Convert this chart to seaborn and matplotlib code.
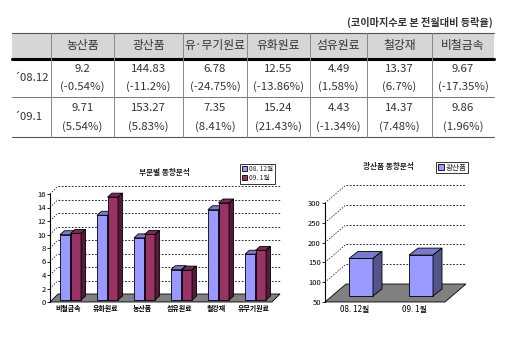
import numpy as np
import pandas as pd
import matplotlib
matplotlib.use("Agg")
import matplotlib.pyplot as plt
import matplotlib.colors as mcolors
from matplotlib.patches import Polygon, Rectangle
import seaborn as sns

sns.set_theme(style="white")
plt.rcParams['font.family'] = ['Noto Sans CJK KR', 'DejaVu Sans']

# ---- data ----
categories = ["농산품", "광산품", "유·무기원료", "유화원료", "섬유원료", "철강재", "비철금속"]
periods = ["´08.12", "´09.1"]
index_0812 = [9.2, 144.83, 6.78, 12.55, 4.49, 13.37, 9.67]
index_0901 = [9.71, 153.27, 7.35, 15.24, 4.43, 14.37, 9.86]
change_0812 = [-0.54, -11.2, -24.75, -13.86, 1.58, 6.7, -17.35]
change_0901 = [5.54, 5.83, 8.41, 21.43, -1.34, 7.48, 1.96]

sector_order = ["비철금속", "유화원료", "농산품", "섬유원료", "철강재", "유·무기원료"]
series_names = ["08. 12월", "09. 1월"]
mineral = "광산품"

note_text = "(코이마지수로 본 전월대비 등락율)"
left_title = "부문별 동향분석"
right_title = "광산품 동향분석"

BLUE = "#9999FF"
WINE = "#993366"
INK = "#333333"

W, H = 512, 341
fig = plt.figure(figsize=(W / 100, H / 100), dpi=100)
fig.patch.set_facecolor("white")

# ---- table (pixel coordinate canvas) ----
tab = fig.add_axes([0, 0, 1, 1], zorder=0)
tab.set_xlim(0, W)
tab.set_ylim(H, 0)
tab.axis("off")

col_edges = [12, 51, 114, 183, 247, 310, 367, 432, 494]
y_top, y_head, y_mid, y_bot = 33, 58.5, 97, 137

tab.add_patch(Rectangle((col_edges[0], y_top), col_edges[-1] - col_edges[0], y_head - y_top,
                        facecolor="#D6D6D6", edgecolor="none"))
tab.plot([col_edges[0], col_edges[-1]], [y_top, y_top], color="#555555", lw=0.8)
tab.plot([col_edges[0], col_edges[-1]], [y_head, y_head], color="black", lw=2.2)
tab.plot([col_edges[0], col_edges[-1]], [y_mid, y_mid], color="#777777", lw=0.7)
tab.plot([col_edges[0], col_edges[-1]], [y_bot, y_bot], color="#555555", lw=0.8)
for xe in col_edges[1:-1]:
    tab.plot([xe, xe], [y_top, y_bot], color="#888888", lw=0.7)

fam = ['Noto Sans CJK KR', 'DejaVu Sans']
for i, name in enumerate(categories):
    cx = (col_edges[i + 1] + col_edges[i + 2]) / 2
    tab.text(cx, (y_top + y_head) / 2, name, ha="center", va="center",
             fontsize=8.5, color=INK, family=fam)
    for r, (vals, chg) in enumerate([(index_0812, change_0812), (index_0901, change_0901)]):
        r0 = [y_head, y_mid][r]
        r1 = [y_mid, y_bot][r]
        hgt = r1 - r0
        tab.text(cx, r0 + hgt * 0.27, f"{vals[i]}", ha="center", va="center",
                 fontsize=8.2, color=INK, family=fam)
        tab.text(cx, r0 + hgt * 0.73, f"({chg[i]}%)", ha="center", va="center",
                 fontsize=8.2, color=INK, family=fam)

for r, lab in enumerate(periods):
    r0 = [y_head, y_mid][r]
    r1 = [y_mid, y_bot][r]
    tab.text(col_edges[0] + 1, (r0 + r1) / 2, lab, ha="left", va="center",
             fontsize=8.2, color=INK, family=fam)

tab.text(493, 22, note_text, ha="right", va="center", fontsize=7.3, color=INK,
         weight="bold", family=fam)
tab.text(164, 172, left_title, ha="center", va="center", fontsize=5.5,
         weight="bold", color="#222222", family=fam)
tab.text(388, 166, right_title, ha="center", va="center", fontsize=5.5,
         weight="bold", color="#222222", family=fam)


# ---- 3D-look helpers ----
def px_to_data(ax, dx, dy):
    t = ax.transData
    p0 = t.transform((0.0, 0.0))
    q = t.inverted().transform(p0 + np.array([dx, dy]))
    return q[0], q[1]


def shade(color, k):
    r, g, b = mcolors.to_rgb(color)
    return (r * k, g * k, b * k)


def dress_axes(ax, ticks, wall, base, bold_x=True):
    x0, x1 = ax.get_xlim()
    fdx, fdy = px_to_data(ax, *wall)
    # floor
    ax.add_patch(Polygon([(x0, base), (x1, base), (x1 + fdx, base + fdy), (x0 + fdx, base + fdy)],
                         closed=True, facecolor="#808080", edgecolor="black", lw=0.6,
                         zorder=1, clip_on=False))
    # back-wall gridlines and the slanted connectors at each tick
    for v in ticks[1:]:
        ax.plot([x0 + fdx, x1 + fdx], [v + fdy, v + fdy], color="black", lw=0.6,
                ls=(0, (2, 2)), zorder=0.5, clip_on=False)
        ax.plot([x0, x0 + fdx], [v, v + fdy], color="black", lw=0.5,
                ls=(0, (2, 2)), zorder=0.5, clip_on=False)
    ax.set_yticks(ticks)
    ax.set_facecolor("none")
    for s in ["top", "right", "bottom"]:
        ax.spines[s].set_visible(False)
    ax.spines["left"].set_color("black")
    ax.spines["left"].set_linewidth(0.8)
    ax.tick_params(axis="y", labelsize=5.5, length=2, width=0.6, pad=1, colors="black",
                   left=True)
    ax.tick_params(axis="x", labelsize=5, length=0, pad=2, colors="black")
    if bold_x:
        for lab in ax.get_xticklabels():
            lab.set_fontweight("bold")
    ax.set_xlabel("")
    ax.set_ylabel("")
    ax.grid(False)


def extrude(ax, bars, shift, depth, base):
    sx, sy = px_to_data(ax, *shift)
    ddx, ddy = px_to_data(ax, *depth)
    bars = sorted(bars, key=lambda p: p.get_x())
    for k, p in enumerate(bars):
        z = 3 + k * 0.01
        front = p.get_facecolor()
        top_val = p.get_y() + p.get_height()
        x = p.get_x() + sx
        y = base + sy
        w = p.get_width()
        h = top_val - base
        p.set_x(x)
        p.set_y(y)
        p.set_height(h)
        p.set_zorder(z)
        p.set_clip_on(False)
        p.set_edgecolor("black")
        p.set_linewidth(0.6)
        ax.add_patch(Polygon([(x, y + h), (x + w, y + h), (x + w + ddx, y + h + ddy),
                              (x + ddx, y + h + ddy)], closed=True,
                             facecolor=shade(front, 0.8), edgecolor="black", lw=0.6,
                             zorder=z, clip_on=False))
        ax.add_patch(Polygon([(x + w, y), (x + w + ddx, y + ddy), (x + w + ddx, y + h + ddy),
                              (x + w, y + h)], closed=True,
                             facecolor=shade(front, 0.55), edgecolor="black", lw=0.6,
                             zorder=z, clip_on=False))


# ---- left chart: sectors ----
pos = {c: i for i, c in enumerate(categories)}
rows = []
for c in sector_order:
    rows.append({"sector": c.replace("·", ""), "period": series_names[0], "value": index_0812[pos[c]]})
    rows.append({"sector": c.replace("·", ""), "period": series_names[1], "value": index_0901[pos[c]]})
df_sec = pd.DataFrame(rows)

axL = fig.add_axes([50 / W, 1 - 302 / H, 222 / W, 108 / H], zorder=2)
sns.barplot(data=df_sec, x="sector", y="value", hue="period", palette=[BLUE, WINE],
            width=0.57, ax=axL, legend=False, saturation=1, errorbar=None)
barsL = [p for p in axL.patches if isinstance(p, Rectangle)]
axL.set_xlim(-0.5, len(sector_order) - 0.5)
axL.set_ylim(0, 16)
left_ticks = list(range(0, 17, 2))
dress_axes(axL, left_ticks, wall=(8, 8), base=0)
extrude(axL, barsL, shift=(2, 2), depth=(4.5, 4), base=0)

legL = fig.legend(handles=[Rectangle((0, 0), 1, 1, facecolor=BLUE, edgecolor="black", lw=0.6),
                           Rectangle((0, 0), 1, 1, facecolor=WINE, edgecolor="black", lw=0.6)],
                  labels=series_names, loc="upper left",
                  bbox_to_anchor=(240 / W, 1 - 163.5 / H), fontsize=4.8, frameon=True,
                  fancybox=False, edgecolor="black", borderpad=0.25, handlelength=0.8,
                  handleheight=0.8, handletextpad=0.3, labelspacing=0.15,
                  borderaxespad=0)
legL.get_frame().set_linewidth(0.7)

# ---- right chart: mineral products ----
df_min = pd.DataFrame({"period": series_names,
                       "value": [index_0812[pos[mineral]], index_0901[pos[mineral]]]})
axR = fig.add_axes([325 / W, 1 - 302 / H, 120 / W, 99 / H], zorder=2)
sns.barplot(data=df_min, x="period", y="value", color=BLUE, width=0.4, ax=axR,
            saturation=1, errorbar=None)
barsR = [p for p in axR.patches if isinstance(p, Rectangle)]
axR.set_xlim(-0.5, 1.5)
axR.set_ylim(50, 300)
right_ticks = list(range(50, 301, 50))
dress_axes(axR, right_ticks, wall=(21, 18), base=50, bold_x=False)
extrude(axR, barsR, shift=(6, 6), depth=(9, 7), base=50)
axR.set_xticks([0, 1])
axR.set_xticklabels(series_names, fontsize=5.8)

legR = fig.legend(handles=[Rectangle((0, 0), 1, 1, facecolor=BLUE, edgecolor="black", lw=0.6)],
                  labels=[mineral], loc="upper left",
                  bbox_to_anchor=(436 / W, 1 - 162 / H), fontsize=5.5, frameon=True,
                  fancybox=False, edgecolor="black", borderpad=0.2, handlelength=0.8,
                  handleheight=0.8, handletextpad=0.3, borderaxespad=0)
legR.get_frame().set_linewidth(0.7)

fig.savefig("out.png", dpi=100)
